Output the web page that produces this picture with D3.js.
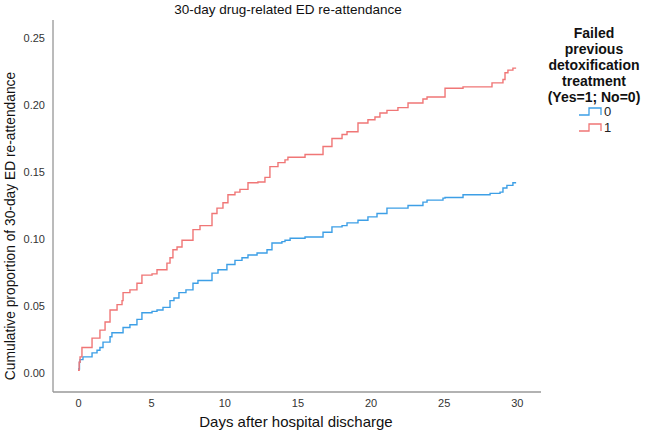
<!DOCTYPE html>
<html><head><meta charset="utf-8">
<script src="https://cdn.jsdelivr.net/npm/d3@7/dist/d3.min.js"></script>
<style>body{margin:0;background:#fff;} svg{display:block;font-family:Arial,"Liberation Sans",sans-serif;}</style>
</head><body>
<svg id="c" width="646" height="441"></svg>
<script>
const groups = ["0", "1"];
const groupColors = ["#3d9fe6", "#f07676"];
const xTicks = [0, 5, 10, 15, 20, 25, 30];
const yTicks = [0, 0.05, 0.10, 0.15, 0.20, 0.25];
// Kaplan-Meier style cumulative incidence: [day, proportion]
const series0 = [[0,0.003],[0.1,0.008],[0.14,0.010],[0.34,0.012],[0.96,0.015],[1.3,0.017],[1.5,0.019],[1.71,0.023],[2.19,0.027],[2.32,0.030],[3.08,0.034],[3.55,0.036],[4.03,0.040],[4.37,0.045],[5.06,0.046],[5.4,0.047],[5.81,0.049],[6.29,0.054],[6.56,0.056],[6.9,0.060],[7.38,0.062],[7.86,0.067],[8.2,0.069],[9.16,0.0745],[9.57,0.077],[10.18,0.081],[10.73,0.084],[11.21,0.086],[11.62,0.088],[12.24,0.0895],[12.92,0.092],[13.26,0.097],[13.94,0.098],[14.15,0.099],[14.5,0.1005],[15.52,0.1015],[16.75,0.105],[17.36,0.109],[18.05,0.110],[18.39,0.112],[19.14,0.114],[19.82,0.1165],[20.44,0.119],[21.12,0.123],[22.56,0.125],[23.58,0.1275],[23.86,0.129],[24.95,0.1305],[25.09,0.131],[26.32,0.133],[28.17,0.134],[28.85,0.135],[29.05,0.138],[29.32,0.140],[29.73,0.142],[29.95,0.142]];
const series1 = [[0,0.002],[0.08,0.008],[0.14,0.012],[0.27,0.019],[0.96,0.026],[1.5,0.032],[1.85,0.038],[2.19,0.047],[2.67,0.051],[3.01,0.054],[3.08,0.060],[3.55,0.062],[4.03,0.067],[4.37,0.073],[5.06,0.074],[5.4,0.077],[6.08,0.082],[6.29,0.086],[6.49,0.092],[6.77,0.094],[7.11,0.099],[7.86,0.107],[8.34,0.110],[9.16,0.119],[9.5,0.123],[9.91,0.127],[10.25,0.133],[10.73,0.135],[11.07,0.137],[11.62,0.142],[12.3,0.1425],[12.78,0.146],[13.12,0.154],[13.67,0.157],[14.15,0.159],[14.35,0.161],[15.52,0.163],[16.75,0.169],[17.36,0.175],[18.05,0.178],[18.39,0.180],[19.14,0.1865],[19.82,0.189],[20.3,0.191],[20.64,0.194],[21.12,0.196],[21.87,0.198],[22.56,0.2015],[23.58,0.2045],[23.86,0.206],[25.09,0.2125],[26.32,0.2135],[28.3,0.2165],[29.05,0.219],[29.19,0.224],[29.39,0.226],[29.73,0.2275],[29.95,0.2275]];
const allSeries = [series0, series1];

const svg = d3.select("#c");
const x = d3.scaleLinear().domain([-1.709, 31.65]).range([53, 541]);
const y = d3.scaleLinear().domain([-0.01418, 0.2634]).range([392, 20]);

// axes lines
svg.append("line").attr("x1",53).attr("x2",53).attr("y1",20).attr("y2",392).attr("stroke","#777").attr("stroke-width",1);
svg.append("line").attr("x1",53).attr("x2",541).attr("y1",392).attr("y2",392).attr("stroke","#999").attr("stroke-width",1.3);

const ya = svg.append("g").attr("transform","translate(53,0)")
  .call(d3.axisLeft(y).tickValues(yTicks).tickFormat(d3.format(".2f")).tickSize(0).tickPadding(8));
ya.select(".domain").remove();
ya.selectAll("text").attr("font-size",11).attr("fill","#333").attr("font-family","Arial,'Liberation Sans',sans-serif");

const xa = svg.append("g").attr("transform","translate(0,392)")
  .call(d3.axisBottom(x).tickValues(xTicks).tickFormat(d3.format("d")).tickSize(0).tickPadding(7));
xa.select(".domain").remove();
xa.selectAll("text").attr("font-size",11).attr("fill","#333").attr("font-family","Arial,'Liberation Sans',sans-serif");

// lines
const line = d3.line().x(d=>x(d[0])).y(d=>y(d[1])).curve(d3.curveStepAfter);
allSeries.forEach((s,i)=>{
  svg.append("path").datum(s).attr("d",line).attr("fill","none")
    .attr("stroke",groupColors[i]).attr("stroke-width",1.4);
});

// titles
svg.append("text").attr("x",288).attr("y",14).attr("text-anchor","middle")
  .attr("font-size",13.5).attr("fill","#111").text("30-day drug-related ED re-attendance");
svg.append("text").attr("x",296).attr("y",427).attr("text-anchor","middle")
  .attr("font-size",15).attr("fill","#111").text("Days after hospital discharge");
svg.append("text").attr("transform","translate(15,226) rotate(-90)").attr("text-anchor","middle")
  .attr("font-size",13.8).attr("fill","#111").text("Cumulative proportion of 30-day ED re-attendance");

// legend
const legTitle = ["Failed","previous","detoxification","treatment","(Yes=1; No=0)"];
legTitle.forEach((t,i)=>{
  svg.append("text").attr("x",594).attr("y",38+i*16).attr("text-anchor","middle")
    .attr("font-size",14).attr("font-weight","bold").attr("fill","#111").text(t);
});
groups.forEach((g,i)=>{
  const yy = 115 + i*16;
  svg.append("path").attr("d",`M579,${yy} H589 V${yy-7} H601 V${yy}`)
    .attr("fill","none").attr("stroke",groupColors[i]).attr("stroke-width",1.3);
  svg.append("text").attr("x",604).attr("y",yy+1).attr("font-size",13).attr("fill","#222").text(g);
});
</script>
</body></html>
